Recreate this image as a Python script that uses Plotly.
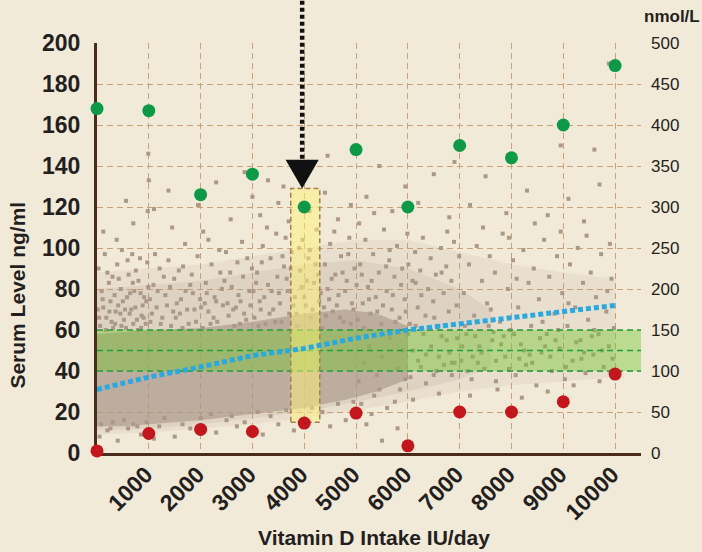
import plotly.graph_objects as go

# ---------------- data ----------------
doses = [0, 1000, 2000, 3000, 4000, 5000, 6000, 7000, 8000, 9000, 10000]
max_level = [168, 167, 126, 136, 120, 148, 120, 150, 144, 160, 189]   # green dots, ng/ml
min_level = [1, 9.5, 11.5, 10.5, 14.6, 19.5, 3.5, 20, 20, 25, 38.5]   # red dots, ng/ml
trend = [31, 37, 42, 47.5, 51, 56, 60, 63, 66.5, 69.5, 72]            # blue dotted trend

x_tick_vals = [1000, 2000, 3000, 4000, 5000, 6000, 7000, 8000, 9000, 10000]
x_tick_text = ["1000", "2000", "3000", "4000", "5000", "6000", "7000", "8000", "9000", "10000"]
y_tick_vals = [0, 20, 40, 60, 80, 100, 120, 140, 160, 180, 200]
y2_tick_vals = [0, 50, 100, 150, 200, 250, 300, 350, 400, 450, 500]

target_band = [40, 50, 60]            # ng/ml target range (low, mid, high)
highlight_x = [3740, 4300]            # yellow box around 4000 IU
highlight_y = [15, 129]
arrow_x = 3960
arrow_base, arrow_tip = 143, 129

# density envelopes of the scatter cloud (sparse -> dense)
outer_x = [0, 1000, 2000, 3000, 4000, 5000, 6000, 7000, 8000, 9000, 10000]
outer_lo = [9, 10, 12, 14, 17, 21, 25, 30, 33, 35, 37]
outer_hi = [88, 90, 92, 96, 100, 104, 104, 98, 92, 88, 85]
mid_x = [0, 1000, 2000, 3000, 4000, 5000, 6000, 7000, 7600]
mid_lo = [11, 12, 14, 17, 20, 25, 30, 36, 42]
mid_hi = [80, 82, 84, 88, 92, 94, 90, 80, 70]
core_x = [0, 500, 1000, 2000, 3000, 4000, 4800, 5400, 6000]
core_lo = [13, 13, 14, 16, 19, 22, 26, 30, 36]
core_hi = [58, 59, 60, 61, 64, 68, 70, 68, 62]

# individual scatter points (IU/day, ng/ml)
cloud_points = [
    (60,62),(120,71),(180,66),(230,83),(280,64),(340,77),(390,92),(450,68),(500,74),(560,61),
    (610,87),(660,70),(720,79),(770,65),(830,95),(880,72),(940,63),(990,81),(30,90),(150,97),
    (260,74),(310,61),(420,85),(480,99),(540,70),(640,78),(700,63),(750,89),(860,67),(910,76),
    (970,93),(90,79),(200,88),(360,69),(590,94),(800,84),(15,70),(470,62),(680,97),(850,61),
    (120,108),(380,104),(700,112),(980,118),(990,146),(1000,133),(560,123),
    (1030,64),(1090,82),(1150,71),(1210,90),(1260,66),(1320,77),(1380,94),(1430,62),(1490,85),
    (1540,73),(1600,68),(1660,91),(1710,79),(1770,63),(1830,87),(1880,70),(1940,96),(1990,75),
    (2040,61),(2100,83),(2150,69),(2210,92),(2270,76),(2320,64),(2380,88),(2430,72),(2490,98),
    (2540,67),(2600,81),(2650,62),(2710,93),(2770,74),(2820,86),(2880,65),(2940,79),(2990,90),
    (1120,97),(1290,86),(1470,69),(1650,61),(1850,78),(2080,73),(2250,66),(2460,84),(2680,71),
    (2900,95),(1020,75),(1580,89),(2360,99),(2760,63),
    (1100,119),(1380,128),(1450,110),(1950,121),(2050,108),(2150,104),(2580,114),(2800,103),
    (2850,137),(3000,125),(1700,102),(2300,132),
    (3040,66),(3090,88),(3140,74),(3200,101),(3250,63),(3300,82),(3350,95),(3400,70),(3460,107),
    (3510,78),(3560,64),(3610,91),(3660,85),(3710,68),(3760,98),(3820,76),(3870,62),(3920,89),
    (3970,104),(4030,72),(4080,95),(4130,66),(4190,83),(4240,109),(4290,74),(4350,61),(4400,92),
    (4450,80),(4500,102),(4550,69),(4600,87),(4660,77),(4710,96),(4760,64),(4820,84),(4870,105),
    (4920,73),(4970,90),(3020,79),(3180,93),(3330,68),(3480,86),(3640,105),(3790,72),(3950,81),
    (4110,99),(4270,87),(4420,67),(4580,108),(4740,88),(4900,63),(3120,62),(3580,96),(4050,84),
    (4480,75),(4850,97),(3280,110),(3900,100),
    (3150,116),(3300,133),(3500,122),(3700,113),(3820,138),(4100,118),(4400,127),(4650,114),
    (4900,121),(4450,145),(3600,130),
    (5030,65),(5080,92),(5130,73),(5180,104),(5230,81),(5280,68),(5330,97),(5380,76),(5440,88),
    (5490,63),(5540,109),(5590,79),(5640,94),(5690,70),(5740,86),(5790,101),(5840,66),(5890,90),
    (5940,75),(5990,107),(6040,63),(6090,84),(6140,98),(6190,71),(6240,89),(6290,105),(6340,67),
    (6390,80),(6440,95),(6490,74),(6540,87),(6590,62),(6640,100),(6690,78),(6740,91),(6790,69),
    (6840,84),(6890,103),(6940,72),(6990,96),(5060,112),(5300,84),(5520,72),(5760,64),(6010,92),
    (6260,77),(6510,66),(6760,108),(5150,61),(5650,99),(6150,83),(6650,88),
    (5100,24),(5350,28),(5600,22),(5850,31),(6100,26),(6350,34),(6600,29),(6850,38),(6200,45),
    (6450,52),(6700,43),(6950,56),(6300,58),(6550,40),(6800,49),(6050,37),(5300,19),(5750,25),
    (5200,125),(5450,140),(5700,118),(5950,130),(6200,122),(6500,136),(6800,115),(5350,117),
    (7030,45),(7080,78),(7130,58),(7180,92),(7230,36),(7280,67),(7330,101),(7380,52),(7430,84),
    (7480,41),(7530,73),(7580,96),(7630,55),(7680,88),(7730,31),(7780,64),(7830,107),(7880,47),
    (7930,80),(7980,60),(8030,94),(8080,38),(8130,71),(8180,53),(8230,99),(8280,43),(8330,83),
    (8380,62),(8430,90),(8480,33),(8530,75),(8580,49),(8630,104),(8680,58),(8730,86),(8780,40),
    (8830,68),(8880,96),(8930,51),(8980,78),(9030,36),(9080,62),(9130,92),(9180,45),(9230,71),
    (9280,100),(9330,55),(9380,83),(9430,39),(9480,65),(9530,88),(9580,48),(9630,76),(9680,58),
    (9730,97),(9780,42),(9830,69),(9880,52),(9930,85),(9980,61),
    (7100,62),(7350,44),(7600,70),(7850,57),(8100,85),(8350,48),(8600,64),(8850,55),(9100,73),
    (9350,46),(9600,60),(9850,79),(7200,28),(7700,35),(8200,27),(8700,30),(9200,33),(9700,35),
    (7450,110),(7950,105),(8450,112),(8950,108),(9450,106),(9900,102),
    (7200,121),(7500,135),(7900,117),(8300,128),(8700,116),(9100,124),(9400,113),(9700,131),
    (9880,190),(8950,150),(9600,148),(6900,142),
    (50,8),(200,11),(400,6),(600,12),(850,9),(1200,13),(1500,8),(1800,12),(2300,10),(2700,13),
    (3200,9),(3500,14),(4500,13),(4800,16),(5200,14),(5500,6),(5800,12),(300,15),(700,14),
    (1100,7),(2500,16),(3800,11),
    (40,66),(110,75),(170,60),(240,69),(300,86),(350,63),(410,72),(460,80),(520,65),(580,76),
    (630,68),(690,83),(740,71),(790,60),(840,78),(900,66),(950,74),(1060,68),(1170,79),(1230,63),
    (1350,72),(1410,81),(1520,66),(1620,75),(1740,70),(1800,82),(1910,64),(2010,71),(2120,78),
    (2190,63),(2300,74),(2410,80),(2520,73),(2570,88),(2630,70),(2730,77),(2840,68),(2960,72),
    (3070,83),(3160,70),(3230,76),(3370,79),(3440,64),(3530,73),(3680,79),(3740,90),(3850,68),
    (4000,76),(4160,70),(4220,92),(4320,78),(4380,71),(4530,85),(4630,72),(4690,66),(4790,79),
    (4950,70),(5010,82),(5110,87),(5250,75),(5410,69),(5580,91),(5710,77),(5870,82),(5960,69),
    (80,14),(260,12),(520,16),(780,13),(960,15),(1300,17),(1650,14),(2000,17),(2200,19),(2600,18),
    (2850,15),(3100,20),(3350,18),(3650,21),(4150,22),(4350,20),(4650,24),(4950,25),
    (6100,50),(6250,42),(6400,61),(6600,47),(6750,55),(6900,44),(7050,52),(7150,40),(7300,57),
    (7420,49),(7560,62),(7700,45),(7800,53),(7950,41),(8050,58),(8250,50),(8400,44),(8550,56),
    (8750,47),(8900,60),(9050,42),(9250,54),(9400,49),(9550,57),(9750,50),(9950,46),(7250,47),
    (7650,59),(8150,46),(8650,52),
    (5050,35),(5150,44),(5250,52),(5400,38),(5500,47),(5650,56),(5800,41),(5900,50),(6000,58),
    (5450,31),(5950,36),(6150,62),(6350,48),(6500,38),(6650,57),(6850,44),
]
cloud_x = [p[0] for p in cloud_points]
cloud_y = [p[1] for p in cloud_points]

# ---------------- styling ----------------
FONT = "Liberation Sans, Arial, Helvetica, sans-serif"
BG = "#f2ead8"
TXT = "#231f20"
AXIS = "#4a2c1a"
GRID = "#c9a174"
CLOUD = "171,152,137"
X_RANGE = [0, 10500]
Y_RANGE = [0, 200]


def px(v):
    return (v - X_RANGE[0]) / (X_RANGE[1] - X_RANGE[0])


def py(v):
    return (v - Y_RANGE[0]) / (Y_RANGE[1] - Y_RANGE[0])


def envelope(xs, lo, hi, alpha):
    return go.Scatter(
        x=xs + xs[::-1], y=lo + hi[::-1], mode="lines", fill="toself",
        fillcolor=f"rgba({CLOUD},{alpha})", line=dict(width=0),
        hoverinfo="skip", showlegend=False)


fig = go.Figure()
fig.add_trace(envelope(outer_x, outer_lo, outer_hi, 0.12))
fig.add_trace(envelope(mid_x, mid_lo, mid_hi, 0.16))
fig.add_trace(envelope(core_x, core_lo, core_hi, 0.64))
fig.add_trace(go.Scatter(
    x=cloud_x, y=cloud_y, mode="markers",
    marker=dict(symbol="square", size=4, color=f"rgb({CLOUD})", line=dict(width=0)),
    hoverinfo="skip", showlegend=False))

# target band (green, translucent, over the cloud)
fig.add_trace(go.Scatter(
    x=[X_RANGE[0], X_RANGE[1], X_RANGE[1], X_RANGE[0]],
    y=[target_band[0], target_band[0], target_band[2], target_band[2]],
    mode="lines", fill="toself", fillcolor="rgba(112,200,45,0.42)",
    line=dict(width=0), hoverinfo="skip", showlegend=False))
for lvl in target_band:
    fig.add_trace(go.Scatter(
        x=X_RANGE, y=[lvl, lvl], mode="lines",
        line=dict(color="#20a03c", width=1.5, dash="6px,4px"),
        hoverinfo="skip", showlegend=False))

# yellow highlight box
fig.add_trace(go.Scatter(
    x=[highlight_x[0], highlight_x[1], highlight_x[1], highlight_x[0], highlight_x[0]],
    y=[highlight_y[0], highlight_y[0], highlight_y[1], highlight_y[1], highlight_y[0]],
    mode="lines", fill="toself", fillcolor="rgba(255,242,120,0.5)",
    line=dict(color="#a47e52", width=1.5, dash="5px,3px"),
    hoverinfo="skip", showlegend=False))

# trend line
fig.add_trace(go.Scatter(
    x=doses, y=trend, mode="lines",
    line=dict(color="#29a9e1", width=5, dash="5px,3px"),
    hoverinfo="skip", showlegend=False))

# max / min dots
fig.add_trace(go.Scatter(
    x=doses, y=max_level, mode="markers", cliponaxis=False,
    marker=dict(size=13, color="#0c9a48", line=dict(width=0)), showlegend=False))
fig.add_trace(go.Scatter(
    x=doses, y=min_level, mode="markers", cliponaxis=False,
    marker=dict(size=13, color="#c5161d", line=dict(width=0)), showlegend=False))

# invisible trace to carry the right-hand nmol/L axis
fig.add_trace(go.Scatter(x=[None], y=[None], yaxis="y2", showlegend=False, hoverinfo="skip"))

# arrow pointing at 4000 IU
ax = px(arrow_x)
half_w = 320 / (X_RANGE[1] - X_RANGE[0])
shapes = [
    dict(type="line", xref="paper", yref="paper", x0=ax, x1=ax, y0=1.12, y1=py(arrow_base) - 0.005,
         line=dict(color="#111111", width=4.5, dash="4px,3px"), layer="above"),
    dict(type="path", xref="paper", yref="paper",
         path=f"M {ax - half_w},{py(arrow_base)} L {ax + half_w},{py(arrow_base)} L {ax},{py(arrow_tip)} Z",
         fillcolor="#111111", line=dict(width=0), layer="above"),
]

fig.update_layout(
    width=702, height=552,
    margin=dict(l=97, r=61, t=43, b=99, pad=0),
    paper_bgcolor=BG, plot_bgcolor=BG,
    showlegend=False,
    shapes=shapes,
    xaxis=dict(
        range=X_RANGE, tickvals=x_tick_vals, ticktext=x_tick_text, tickangle=-45,
        showgrid=True, gridcolor=GRID, gridwidth=1, griddash="6px,4px",
        zeroline=False, showline=True, linecolor=AXIS, linewidth=3,
        ticks="", ticklabelstandoff=-4, ticklabelshift=-3, layer="below traces",
        tickfont=dict(family=FONT, size=23, color=TXT, weight="bold"),
    ),
    yaxis=dict(
        range=Y_RANGE, tickvals=y_tick_vals,
        showgrid=True, gridcolor=GRID, gridwidth=1, griddash="6px,4px",
        zeroline=False, showline=True, linecolor=AXIS, linewidth=3,
        ticks="", ticklabelstandoff=9, layer="below traces",
        tickfont=dict(family=FONT, size=23, color=TXT, weight="bold"),
    ),
    yaxis2=dict(
        overlaying="y", side="right", range=[0, 500], tickvals=y2_tick_vals,
        showgrid=False, zeroline=False, showline=False, ticks="", ticklabelstandoff=9,
        tickfont=dict(family=FONT, size=17, color=TXT),
    ),
    annotations=[
        dict(text="nmol/L", xref="paper", yref="paper", x=1.0564, y=1.0646,
             xanchor="center", yanchor="middle", showarrow=False,
             font=dict(family=FONT, size=17, color=TXT, weight="bold")),
        dict(text="Vitamin D Intake IU/day", xref="paper", yref="paper", x=0.51, y=-0.207,
             xanchor="center", yanchor="middle", showarrow=False,
             font=dict(family=FONT, size=21, color=TXT, weight="bold")),
        dict(text="Serum Level ng/ml", xref="paper", yref="paper", x=-0.1452, y=0.384,
             xanchor="center", yanchor="middle", showarrow=False, textangle=-90,
             font=dict(family=FONT, size=21, color=TXT, weight="bold")),
    ],
)

fig.write_html(
    "out.html",
    config={"displayModeBar": False},
    post_script="document.body.style.margin='0px';document.body.style.backgroundColor='#f2ead8';",
)
